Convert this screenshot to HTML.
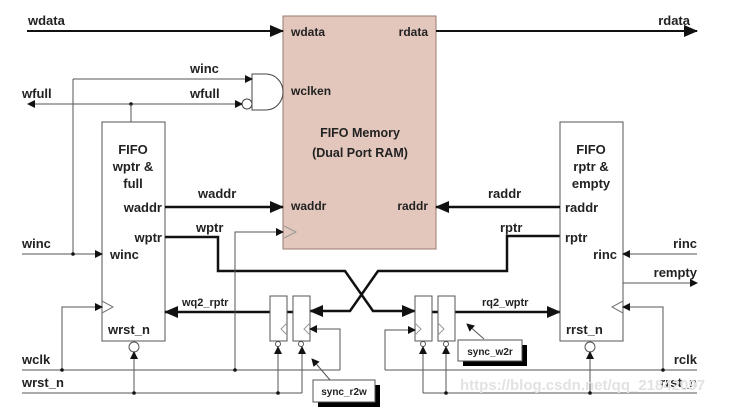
<!DOCTYPE html>
<html><head><meta charset="utf-8"><style>
html,body{margin:0;padding:0;background:#fff;}
svg{display:block;}
text{font-family:"Liberation Sans",Arial,sans-serif;font-weight:bold;fill:#222;}
</style></head><body>
<svg width="739" height="417" viewBox="0 0 739 417" xmlns="http://www.w3.org/2000/svg">
<defs>
<marker id="a" markerWidth="8" markerHeight="8" refX="7" refY="4" orient="auto" markerUnits="userSpaceOnUse"><path d="M0,0 L8,4 L0,8 z" fill="#111"/></marker>
<marker id="b" markerWidth="14" markerHeight="12" refX="13" refY="6" orient="auto" markerUnits="userSpaceOnUse"><path d="M0,0 L14,6 L0,12 z" fill="#111"/></marker>
</defs>
<!-- memory -->
<rect x="283" y="16" width="153" height="233" fill="#e3c7bc" stroke="#9a7a70" stroke-width="1"/>
<text x="291" y="36" font-size="12" fill="#333">wdata</text>
<text x="428" y="36" font-size="12" text-anchor="end" fill="#333">rdata</text>
<text x="291" y="95" font-size="12" fill="#333">wclken</text>
<text x="360" y="137" font-size="12.5" text-anchor="middle" fill="#444">FIFO Memory</text>
<text x="360" y="157" font-size="12.5" text-anchor="middle" fill="#444">(Dual Port RAM)</text>
<text x="291" y="210" font-size="12" fill="#333">waddr</text>
<text x="428" y="210" font-size="12" text-anchor="end" fill="#333">raddr</text>
<path d="M284,226 L296,232 L284,238" fill="none" stroke="#999"/>
<!-- wdata/rdata -->
<line x1="27" y1="31" x2="283" y2="31" stroke="#111" stroke-width="2" marker-end="url(#b)"/>
<text x="28" y="25" font-size="13">wdata</text>
<line x1="436" y1="31" x2="697" y2="31" stroke="#111" stroke-width="2" marker-end="url(#b)"/>
<text x="690" y="25" font-size="13" text-anchor="end">rdata</text>
<!-- AND gate -->
<path d="M252,74 L266,74 A17,18 0 0 1 266,110 L252,110 Z" fill="#fff" stroke="#444"/>
<circle cx="247" cy="104" r="5" fill="#fff" stroke="#444"/>
<line x1="73" y1="79" x2="252" y2="79" stroke="#555" marker-end="url(#a)"/>
<text x="190" y="73" font-size="13">winc</text>
<line x1="131" y1="104" x2="242" y2="104" stroke="#555" marker-end="url(#a)"/>
<line x1="131" y1="104" x2="28" y2="104" stroke="#555" marker-end="url(#a)"/>
<text x="190" y="98" font-size="13">wfull</text>
<text x="22" y="98" font-size="13">wfull</text>
<circle cx="131" cy="104" r="1.8" fill="#111"/>
<line x1="131" y1="104" x2="131" y2="122" stroke="#555"/>
<!-- left FIFO -->
<rect x="102" y="122" width="63" height="219" fill="#fff" stroke="#555"/>
<text x="133" y="154" font-size="13" text-anchor="middle">FIFO</text>
<text x="133" y="171" font-size="13" text-anchor="middle">wptr &amp;</text>
<text x="133" y="188" font-size="13" text-anchor="middle">full</text>
<text x="162" y="212" font-size="13" text-anchor="end">waddr</text>
<text x="162" y="242" font-size="13" text-anchor="end">wptr</text>
<text x="110" y="259" font-size="13">winc</text>
<text x="108" y="334" font-size="13">wrst_n</text>
<path d="M102,301 L113,307 L102,313" fill="none" stroke="#777"/>
<circle cx="134" cy="347" r="5" fill="#fff" stroke="#555"/>
<!-- winc -->
<line x1="73" y1="79" x2="73" y2="254" stroke="#555"/>
<line x1="22" y1="254" x2="102" y2="254" stroke="#555" marker-end="url(#a)"/>
<circle cx="73" cy="254" r="1.8" fill="#111"/>
<text x="22" y="248" font-size="13">winc</text>
<!-- waddr -->
<line x1="165" y1="207" x2="283" y2="207" stroke="#111" stroke-width="2.5" marker-end="url(#b)"/>
<text x="198" y="198" font-size="13">waddr</text>
<!-- wptr -->
<polyline points="165,237 218,237 218,271 345,271 373,311 415,311" fill="none" stroke="#111" stroke-width="2.5" marker-end="url(#b)"/>
<text x="196" y="232" font-size="13">wptr</text>
<!-- rptr -->
<polyline points="560,236 507,236 507,271 378,271 350,311 310,311" fill="none" stroke="#111" stroke-width="2.5" marker-end="url(#b)"/>
<text x="500" y="232" font-size="13">rptr</text>
<line x1="270" y1="312" x2="165" y2="312" stroke="#111" stroke-width="2.5" marker-end="url(#b)"/>
<text x="182" y="306" font-size="11">wq2_rptr</text>
<line x1="287" y1="312" x2="293" y2="312" stroke="#111" stroke-width="2.5"/>
<line x1="455" y1="312" x2="560" y2="312" stroke="#111" stroke-width="2.5" marker-end="url(#b)"/>
<line x1="432" y1="312" x2="438" y2="312" stroke="#111" stroke-width="2.5"/>
<text x="482" y="306" font-size="11">rq2_wptr</text>
<!-- sync flops left -->
<rect x="270" y="296" width="17" height="45" fill="#fff" stroke="#555"/>
<rect x="293" y="296" width="17" height="45" fill="#fff" stroke="#555"/>
<path d="M287,323 L281,329 L287,335" fill="none" stroke="#999"/>
<path d="M310,323 L304,329 L310,335" fill="none" stroke="#999"/>
<circle cx="278" cy="344" r="2.5" fill="#fff" stroke="#555"/>
<circle cx="301" cy="344" r="2.5" fill="#fff" stroke="#555"/>
<!-- sync flops right -->
<rect x="415" y="296" width="17" height="45" fill="#fff" stroke="#555"/>
<rect x="438" y="296" width="17" height="45" fill="#fff" stroke="#555"/>
<path d="M415,323 L421,329 L415,335" fill="none" stroke="#999"/>
<path d="M438,323 L444,329 L438,335" fill="none" stroke="#999"/>
<circle cx="423" cy="344" r="2.5" fill="#fff" stroke="#555"/>
<circle cx="446" cy="344" r="2.5" fill="#fff" stroke="#555"/>
<!-- wclk -->
<line x1="22" y1="370" x2="340" y2="370" stroke="#555"/>
<text x="22" y="364" font-size="13">wclk</text>
<polyline points="62,370 62,307 102,307" fill="none" stroke="#555" marker-end="url(#a)"/>
<circle cx="62" cy="370" r="1.8" fill="#111"/>
<polyline points="235,370 235,232 283,232" fill="none" stroke="#555" marker-end="url(#a)"/>
<circle cx="235" cy="370" r="1.8" fill="#111"/>
<polyline points="340,370 340,329 310,329" fill="none" stroke="#555" marker-end="url(#a)"/>
<!-- wrst_n -->
<line x1="22" y1="393" x2="302" y2="393" stroke="#555"/>
<text x="22" y="387" font-size="13">wrst_n</text>
<line x1="134" y1="393" x2="134" y2="352" stroke="#555" marker-end="url(#a)"/>
<circle cx="134" cy="393" r="1.8" fill="#111"/>
<line x1="278" y1="393" x2="278" y2="347" stroke="#555" marker-end="url(#a)"/>
<circle cx="278" cy="393" r="1.8" fill="#111"/>
<line x1="302" y1="393" x2="302" y2="347" stroke="#555" marker-end="url(#a)"/>
<!-- sync_r2w label -->
<rect x="318" y="385" width="62" height="22" fill="#000"/>
<rect x="313" y="380" width="62" height="22" fill="#fff" stroke="#555"/>
<text x="344" y="395" font-size="10" text-anchor="middle" font-weight="normal">sync_r2w</text>
<line x1="330" y1="380" x2="312" y2="359" stroke="#555" marker-end="url(#a)"/>
<!-- right FIFO -->
<rect x="560" y="122" width="63" height="219" fill="#fff" stroke="#555"/>
<text x="591" y="154" font-size="13" text-anchor="middle">FIFO</text>
<text x="591" y="171" font-size="13" text-anchor="middle">rptr &amp;</text>
<text x="591" y="188" font-size="13" text-anchor="middle">empty</text>
<text x="565" y="212" font-size="13">raddr</text>
<text x="565" y="242" font-size="13">rptr</text>
<text x="617" y="259" font-size="13" text-anchor="end">rinc</text>
<text x="566" y="334" font-size="13">rrst_n</text>
<path d="M623,301 L612,307 L623,313" fill="none" stroke="#777"/>
<circle cx="590" cy="347" r="5" fill="#fff" stroke="#555"/>
<line x1="560" y1="207" x2="436" y2="207" stroke="#111" stroke-width="2.5" marker-end="url(#b)"/>
<text x="488" y="198" font-size="13">raddr</text>
<line x1="697" y1="254" x2="623" y2="254" stroke="#555" marker-end="url(#a)"/>
<text x="697" y="248" font-size="13" text-anchor="end">rinc</text>
<line x1="623" y1="283" x2="697" y2="283" stroke="#555" marker-end="url(#a)"/>
<text x="697" y="277" font-size="13" text-anchor="end">rempty</text>
<!-- rclk -->
<line x1="385" y1="370" x2="697" y2="370" stroke="#555"/>
<text x="697" y="364" font-size="13" text-anchor="end">rclk</text>
<polyline points="663,370 663,307 623,307" fill="none" stroke="#555" marker-end="url(#a)"/>
<circle cx="663" cy="370" r="1.8" fill="#111"/>
<polyline points="385,370 385,330 415,330" fill="none" stroke="#555" marker-end="url(#a)"/>
<!-- rrst_n -->
<line x1="423" y1="393" x2="697" y2="393" stroke="#555"/>
<text x="697" y="387" font-size="13" text-anchor="end">rrst_n</text>
<line x1="423" y1="393" x2="423" y2="347" stroke="#555" marker-end="url(#a)"/>
<line x1="446" y1="393" x2="446" y2="347" stroke="#555" marker-end="url(#a)"/>
<circle cx="446" cy="393" r="1.8" fill="#111"/>
<line x1="590" y1="393" x2="590" y2="352" stroke="#555" marker-end="url(#a)"/>
<circle cx="590" cy="393" r="1.8" fill="#111"/>
<!-- sync_w2r label -->
<rect x="463" y="345" width="64" height="21" fill="#000"/>
<rect x="458" y="340" width="64" height="21" fill="#fff" stroke="#555"/>
<text x="490" y="355" font-size="10" text-anchor="middle" font-weight="normal">sync_w2r</text>
<line x1="484" y1="339" x2="467" y2="324" stroke="#555" marker-end="url(#a)"/>
<text x="460" y="390" font-size="15" font-weight="normal" fill="#ddd" style="fill:#e2e2e2">https://blog.csdn.net/qq_21842097</text>
</svg>
</body></html>
